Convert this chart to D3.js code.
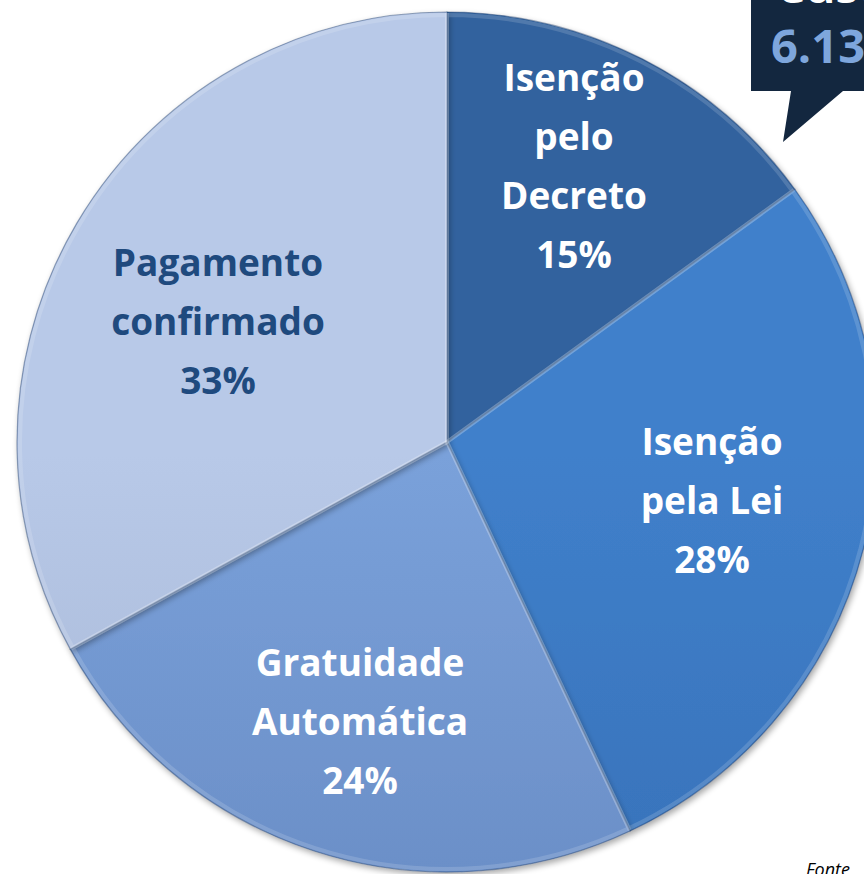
<!DOCTYPE html>
<html><head><meta charset="utf-8">
<script src="https://cdn.jsdelivr.net/npm/d3@7"></script>
<style>html,body{margin:0;padding:0;background:#fff;}svg{display:block;}</style>
</head><body>
<svg id="chart" width="864" height="874"></svg>
<script>
const categories = ["Isenção pelo Decreto", "Isenção pela Lei", "Gratuidade Automática", "Pagamento confirmado"];
const values = [15, 28, 24, 33];
const labelLines = [["Isenção","pelo","Decreto"],["Isenção","pela Lei"],["Gratuidade","Automática"],["Pagamento","confirmado"]];
const calloutText = ["Custo", "6.13"];
const sourceText = "Fonte";

const W = 864, H = 874;
const cx = 447, cy = 442, R = 430;
const colorsTop = ["#30629e", "#4080cb", "#7aa1da", "#b8c9e8"];
const colorsBot = ["#27528a", "#3066aa", "#5c7db5", "#96a5c3"];
const textColors = ["#ffffff", "#ffffff", "#ffffff", "#1f4a7e"];
const FONT = "'Open Sans', Lato, sans-serif";

const svg = d3.select("#chart");
const defs = svg.append("defs");
categories.forEach((c,i)=>{
  const g = defs.append("linearGradient").attr("id","g"+i)
    .attr("gradientUnits","userSpaceOnUse").attr("x1",0).attr("y1",cy-R).attr("x2",0).attr("y2",cy+R);
  g.append("stop").attr("offset","0%").attr("stop-color",colorsTop[i]);
  g.append("stop").attr("offset","100%").attr("stop-color",colorsBot[i]);
});
const f = defs.append("filter").attr("id","sh").attr("x","-10%").attr("y","-10%").attr("width","120%").attr("height","120%");
f.append("feGaussianBlur").attr("in","SourceAlpha").attr("stdDeviation",3);
f.append("feOffset").attr("dx",2).attr("dy",3).attr("result","b");
f.append("feComponentTransfer").append("feFuncA").attr("type","linear").attr("slope",0.35);
const m = f.append("feMerge"); m.append("feMergeNode"); m.append("feMergeNode").attr("in","SourceGraphic");

const pie = d3.pie().sort(null).value(d=>d);
const arcs = pie(values);
const arc = d3.arc().innerRadius(0).outerRadius(R);
const g = svg.append("g").attr("transform",`translate(${cx},${cy})`);
g.selectAll("path.s").data(arcs).join("path").attr("class","s")
  .attr("d",arc).attr("fill",(d,i)=>`url(#g${i})`).attr("filter","url(#sh)")
  .attr("stroke","#23406c").attr("stroke-opacity",0.45).attr("stroke-width",1.2);
const arcIn = d3.arc().innerRadius(0).outerRadius(R-3);
g.selectAll("path.h").data(arcs).join("path").attr("class","h")
  .attr("d",arcIn).attr("fill","none").attr("stroke","#ffffff").attr("stroke-opacity",0.15).attr("stroke-width",4);

// labels
const labelPos = [[574,91],[712,455],[360,676],[218,276]];
const lh = 59;
arcs.forEach((a,i)=>{
  const lines = labelLines[i].concat([values[i]+"%"]);
  const t = svg.append("text").attr("text-anchor","middle")
    .attr("font-family",FONT).attr("font-weight","bold").attr("font-size",37)
    .attr("fill",textColors[i]);
  lines.forEach((l,j)=>{
    t.append("tspan").attr("x",labelPos[i][0]).attr("y",labelPos[i][1]+j*lh).text(l);
  });
});

// callout
svg.append("path").attr("d","M751,-10 L870,-10 L870,91 L843,91 L783,142 L791,91 L751,91 Z").attr("fill","#13273f");
svg.append("text").attr("x",776).attr("y",3).attr("font-family",FONT).attr("font-weight","bold")
  .attr("font-size",46).attr("fill","#ffffff").text(calloutText[0]);
svg.append("text").attr("x",771).attr("y",63).attr("font-family",FONT).attr("font-weight","bold")
  .attr("font-size",47).attr("fill","#7ea6dc").text(calloutText[1]);
svg.append("text").attr("x",806).attr("y",876).attr("font-family",FONT).attr("font-style","italic")
  .attr("font-size",18).attr("fill","#000").text(sourceText);
</script>
</body></html>
